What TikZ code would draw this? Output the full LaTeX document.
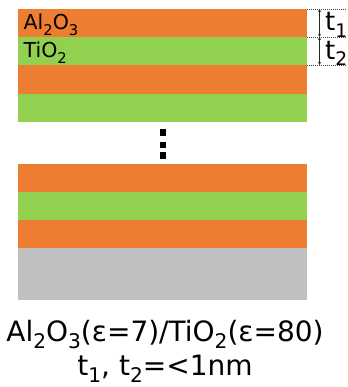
\documentclass[tikz,border=0pt]{standalone}
\usepackage{fontspec}
\setmainfont{DejaVu Sans}
\usetikzlibrary{arrows.meta}
\definecolor{alo}{HTML}{ED7D31}
\definecolor{tio}{HTML}{92D050}
\definecolor{subst}{HTML}{BFBFBF}
\newcommand\lsub[1]{\raisebox{-0.25em}{\scalebox{0.72}{#1}}}
\begin{document}
\begin{tikzpicture}[x=1pt,y=-1pt,
  alolayer/.style={fill=alo},
  tiolayer/.style={fill=tio},
  guide/.style={draw=black!75, line width=0.7pt, dash pattern=on 1pt off 1pt},
  dimarrow/.style={draw=black!85, line width=0.6pt, {Stealth[length=3pt,width=3pt]}-{Stealth[length=3pt,width=3pt]}},
  dotsq/.style={fill=black},
  small/.style={font=\fontsize{20.5}{24}\selectfont, inner sep=0pt, anchor=base west},
  tlabel/.style={font=\fontsize{26}{30}\selectfont, inner sep=0pt, anchor=base west},
  big/.style={font=\fontsize{28}{38}\selectfont, inner sep=0pt, anchor=base}]
\useasboundingbox (0,0) rectangle (347,387);
% top stack
\path[alolayer] (18,9) rectangle (307,37);
\path[tiolayer] (18,37) rectangle (307,65);
\path[alolayer] (18,65) rectangle (307,94);
\path[tiolayer] (18,94) rectangle (307,122);
% dots
\path[dotsq] (160,129.3) rectangle (166.3,135.7);
\path[dotsq] (160,141.8) rectangle (166.3,148.2);
\path[dotsq] (160,152.2) rectangle (166.3,158.6);
% bottom stack
\path[alolayer] (18,164) rectangle (307,192);
\path[tiolayer] (18,192) rectangle (307,220);
\path[alolayer] (18,220) rectangle (307,248);
\fill[subst] (18,248) rectangle (307,300);
% labels in layers
\node[small] (lal) at (23.5,30) {Al\lsub{2}O\lsub{3}};
\node[small] (lti) at (23.5,58) {TiO\lsub{2}};
% dimension guides
\coordinate (g0l) at (307,9);  \coordinate (g0r) at (347,9);
\coordinate (g1l) at (307,37); \coordinate (g1r) at (347,37);
\coordinate (g2l) at (307,65); \coordinate (g2r) at (347,65);
\draw[guide] (g0l) -- (g0r);
\draw[guide] (g1l) -- (g1r);
\draw[guide] (g2l) -- (g2r);
\coordinate (a0) at (319.5,9);
\coordinate (a1) at (319.5,37);
\coordinate (a2) at (319.5,65);
\draw[dimarrow] (a0) -- (a1);
\draw[dimarrow] (a1) -- (a2);
\node[tlabel] (t1) at (325,31) {t\lsub{1}};
\node[tlabel] (t2) at (325,59.5) {t\lsub{2}};
% caption
\node[big] (cap1) at (165,341.5) {Al\lsub{2}O\lsub{3}(ε=7)/TiO\lsub{2}(ε=80)};
\node[big] (cap2) at (165,375.5) {t\lsub{1}, t\lsub{2}=<1nm};
\end{tikzpicture}
\end{document}
